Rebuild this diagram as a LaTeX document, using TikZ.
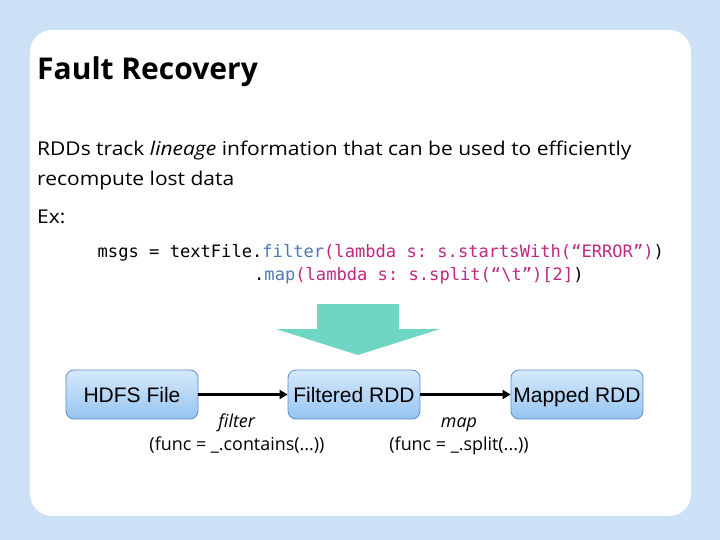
\documentclass[tikz,border=0pt]{standalone}
\usepackage{graphicx}
\usepackage{fontspec}
\setmainfont{Open Sans}
\setsansfont{Liberation Sans}
\setmonofont{DejaVu Sans Mono}
\usetikzlibrary{arrows.meta}
\definecolor{bgblue}{RGB}{205,225,246}
\definecolor{teal}{RGB}{112,214,196}
\definecolor{kwblue}{RGB}{80,120,180}
\definecolor{lammag}{RGB}{190,40,130}
\definecolor{boxtop}{RGB}{214,233,252}
\definecolor{boxbot}{RGB}{150,196,240}
\definecolor{boxedge}{RGB}{90,140,205}
\newcommand{\widetxt}[1]{\scalebox{1.105}[1]{#1}}
\tikzset{
  rdd/.style={draw=boxedge, line width=0.8pt, rounded corners=8pt,
    top color=boxtop, bottom color=boxbot,
    minimum width=132pt, minimum height=49pt, inner sep=0pt,
    text height=15.5pt, text depth=0pt,
    font=\sffamily\fontsize{21}{24}\selectfont},
  flow/.style={line width=2.6pt, -{Triangle[length=8pt,width=9pt]}},
  txt/.style={anchor=base west, inner sep=0pt},
  body/.style={txt, font=\fontsize{19}{24}\selectfont},
  lbl/.style={anchor=base, inner sep=0pt, font=\fontsize{17.9}{22}\selectfont},
  code/.style={anchor=base west, inner sep=0pt, font=\ttfamily\fontsize{17.1}{20}\selectfont}
}
\begin{document}
\begin{tikzpicture}[x=1pt,y=-1pt]
\useasboundingbox (0,0) rectangle (720,540);
\fill[bgblue] (0,0) rectangle (720,540);
\fill[white, rounded corners=22pt] (30,30) rectangle (691,516);

\node[txt, font=\bfseries\fontsize{30}{36}\selectfont] (title) at (37,80) {Fault Recovery};
\node[body] (l1) at (37,155.5) {\widetxt{RDDs track \textit{lineage} information that can be used to efficiently}};
\node[body] (l2) at (37,186) {\widetxt{recompute lost data}};
\node[body] (ex) at (37,224) {\widetxt{Ex:}};

\node[code] (c1) at (97.5,258) {msgs = textFile.\textcolor{kwblue}{filter}\textcolor{lammag}{(lambda s: s.startsWith(“ERROR”)})};
\node[code] (c2) at (254,280.5) {.\textcolor{kwblue}{map}\textcolor{lammag}{(lambda s: s.split(“\textbackslash t”)[2]})};

\fill[teal] (317,304) -- (399,304) -- (399,329) -- (440,329) -- (358,355) -- (276,329) -- (317,329) -- cycle;

\node[rdd] (hdfs) at (132,394.5) {HDFS File};
\node[rdd] (filt) at (354,394.5) {Filtered RDD};
\node[rdd] (mapd) at (577,394.5) {Mapped RDD};

\draw[flow] (hdfs) -- (filt);
\draw[flow] (filt) -- (mapd);

\node[lbl] (f1) at (237,427) {\textit{filter}};
\node[lbl] (f2) at (237,450) {(func = \_.contains(...))};
\node[lbl] (m1) at (459,427) {\textit{map}};
\node[lbl] (m2) at (459,450) {(func = \_.split(...))};
\end{tikzpicture}
\end{document}
